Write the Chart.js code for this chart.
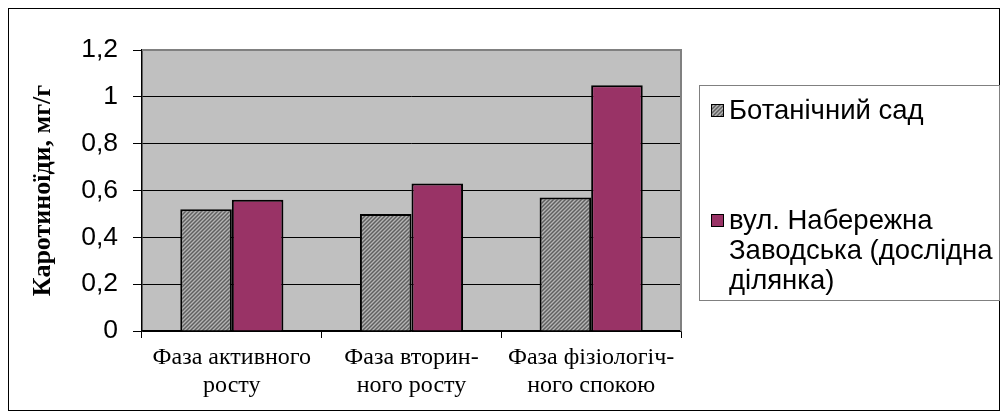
<!DOCTYPE html>
<html>
<head>
<meta charset="utf-8">
<script src="https://cdn.jsdelivr.net/npm/chart.js@4/dist/chart.umd.min.js"></script>
<style>
  html, body { margin: 0; padding: 0; background: #fff; }
  canvas { display: block; }
</style>
</head>
<body>
<canvas id="chart" width="1003" height="416"></canvas>
<script>
// Phases of the growing season (two-line category labels)
const categories = [
  ['Фаза активного', 'росту'],
  ['Фаза вторин-', 'ного росту'],
  ['Фаза фізіологіч-', 'ного спокою']
];
// Series names (legend lines)
const botanicalLabel = ['Ботанічний сад'];
const streetLabel = ['вул. Набережна', 'Заводська (дослідна', 'ділянка)'];
// Carotenoid content, mg/g
const botanicalValues = [0.52, 0.50, 0.57];
const streetValues = [0.56, 0.63, 1.05];
// Value axis
const yTickValues = [0, 0.2, 0.4, 0.6, 0.8, 1, 1.2];
const yTitle = 'Каротиноїди, мг/г';

// Fine diagonal hatch used for the grey series
function makeHatch() {
  const c = document.createElement('canvas');
  c.width = 4; c.height = 4;
  const g = c.getContext('2d');
  for (let y = 0; y < 4; y++) {
    for (let x = 0; x < 4; x++) {
      const k = (x + y) % 4;
      g.fillStyle = k === 0 ? '#606060' : (k === 2 ? '#b4b4b4' : '#888888');
      g.fillRect(x, y, 1, 1);
    }
  }
  return g.createPattern(c, 'repeat');
}
const hatch = makeHatch();
const plum = '#993366';

const frameAndPlot = {
  id: 'frameAndPlot',
  beforeDraw(chart) {
    const ctx = chart.ctx;
    const a = chart.chartArea;
    ctx.save();
    ctx.fillStyle = '#fff';
    ctx.fillRect(0, 0, chart.width, chart.height);
    ctx.strokeStyle = '#000';
    ctx.lineWidth = 1;
    ctx.strokeRect(8.5, 8.5, 991, 402);
    ctx.fillStyle = '#c0c0c0';
    ctx.fillRect(a.left, a.top, a.right - a.left, a.bottom - a.top);
    ctx.restore();
  },
  beforeDatasetsDraw(chart) {
    const ctx = chart.ctx;
    const a = chart.chartArea;
    ctx.save();
    ctx.strokeStyle = '#808080';
    ctx.lineWidth = 2;
    ctx.beginPath();
    ctx.moveTo(a.left, a.top);
    ctx.lineTo(a.right, a.top);
    ctx.lineTo(a.right, a.bottom);
    ctx.stroke();
    ctx.restore();
  },
  afterDraw(chart) {
    // Legend box
    const ctx = chart.ctx;
    ctx.save();
    const bx = 699.5, by = 85.5, bw = 300, bh = 215;
    ctx.fillStyle = '#fff';
    ctx.fillRect(bx, by, bw, bh);
    ctx.strokeStyle = '#808080';
    ctx.lineWidth = 1;
    ctx.strokeRect(bx, by, bw, bh);
    ctx.font = '27.5px "Liberation Sans", Arial, sans-serif';
    ctx.fillStyle = '#000';
    ctx.textBaseline = 'middle';
    ctx.textAlign = 'left';
    const entries = [
      { lines: botanicalLabel, fill: hatch, y: 111 },
      { lines: streetLabel, fill: plum, y: 221 }
    ];
    entries.forEach(e => {
      ctx.fillStyle = e.fill;
      ctx.fillRect(711, e.y - 7, 13, 13);
      ctx.strokeStyle = '#000';
      ctx.lineWidth = 1;
      ctx.strokeRect(711.5, e.y - 6.5, 12, 12);
      ctx.fillStyle = '#000';
      e.lines.forEach((t, i) => ctx.fillText(t, 729, e.y + i * 30));
    });
    ctx.restore();
  }
};

new Chart(document.getElementById('chart'), {
  type: 'bar',
  data: {
    labels: categories,
    datasets: [
      {
        label: botanicalLabel.join(' '),
        data: botanicalValues,
        backgroundColor: hatch,
        borderColor: '#000',
        borderWidth: 2
      },
      {
        label: streetLabel.join(' '),
        data: streetValues,
        backgroundColor: plum,
        borderColor: '#000',
        borderWidth: 2
      }
    ]
  },
  options: {
    responsive: false,
    animation: false,
    devicePixelRatio: 1,
    layout: { padding: { left: 0, top: 50, right: 322, bottom: 0 } },
    datasets: { bar: { categoryPercentage: 0.574, barPercentage: 1 } },
    plugins: { legend: { display: false }, tooltip: { enabled: false } },
    scales: {
      x: {
        grid: {
          offset: true,
          drawOnChartArea: false,
          drawTicks: true,
          tickLength: 7,
          color: '#000'
        },
        border: { color: '#000', width: 1.5 },
        ticks: {
          color: '#000',
          padding: 6,
          maxRotation: 0,
          autoSkip: false,
          font: { family: '"Liberation Serif", "Times New Roman", serif', size: 24, lineHeight: 1.15 }
        },
        afterFit(scale) { scale.height = 85; }
      },
      y: {
        min: 0,
        max: 1.2,
        afterBuildTicks(scale) { scale.ticks = yTickValues.map(v => ({ value: v })); },
        grid: {
          color: ctx => (ctx.tick && ctx.tick.value === 1.2) ? 'rgba(0,0,0,0)' : '#000',
          tickColor: '#000',
          tickLength: 9,
          lineWidth: 1
        },
        border: { color: '#000', width: 1.5 },
        ticks: {
          color: '#000',
          padding: 15,
          font: { family: '"Liberation Sans", Arial, sans-serif', size: 26.5 },
          callback: v => String(Number(v.toFixed(1))).replace('.', ',')
        },
        title: {
          display: true,
          text: yTitle,
          color: '#000',
          padding: { top: 28, bottom: 0 },
          font: { family: '"Liberation Serif", "Times New Roman", serif', size: 26, weight: 'bold', lineHeight: 1.2 }
        },
        afterFit(scale) { scale.width = 142; }
      }
    }
  },
  plugins: [frameAndPlot]
});
</script>
</body>
</html>
